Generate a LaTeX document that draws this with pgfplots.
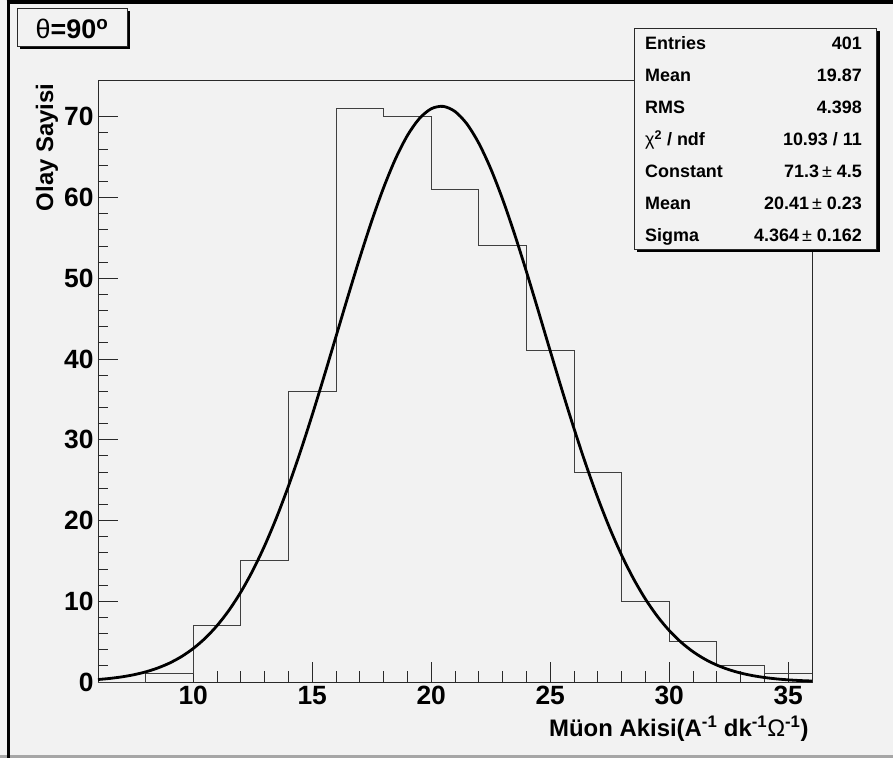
\documentclass[border=0pt]{standalone}
\usepackage{pgfplots}
\pgfplotsset{compat=1.18}
\usepackage{fontspec}
\setmainfont{Liberation Sans}
\definecolor{bgc}{HTML}{F2F2F2}
\definecolor{frm}{HTML}{2A2A2A}
\definecolor{histc}{HTML}{404040}
\begin{document}
\begin{tikzpicture}
\fill[bgc] (0bp,0bp) rectangle (893bp,758bp);
\useasboundingbox (0bp,0bp) rectangle (893bp,758bp);
\draw[gray!70, line width=2bp] (0bp,1.5bp) -- (893bp,1.5bp);
\draw[black, line width=3bp] (8bp,0bp) -- (8bp,758bp);
\draw[black, line width=3.5bp] (6.5bp,756bp) -- (893bp,756bp);
\begin{axis}[
  at={(98bp,76bp)}, anchor=south west,
  scale only axis, width=714bp, height=602bp,
  xmin=6, xmax=36, ymin=0, ymax=74.55,
  axis background/.style={fill=bgc},
  axis line style={frm, line width=0.9bp},
  xtick={10,15,20,25,30,35}, minor x tick num=4,
  ytick={0,10,20,30,40,50,60,70}, minor y tick num=4,
  tick align=inside, xtick pos=bottom, ytick pos=left,
  major tick length=20bp, minor tick length=10.5bp,
  tick style={frm, line width=0.8bp},
  /pgf/number format/assume math mode=true,
  tick label style={font=\fontsize{26.5}{26.5}\selectfont\bfseries},
  xticklabel style={yshift=-1bp},
  yticklabel style={xshift=-1bp},
  xlabel={Müon Akisi(A\textsuperscript{-1} dk\textsuperscript{-1}{\mdseries Ω}\textsuperscript{-1})},
  xlabel style={at={(rel axis cs:1,0)}, anchor=base east, yshift=-54bp,
    font=\fontsize{24}{24}\selectfont\bfseries},
  ylabel={Olay Sayisi},
  ylabel style={at={(rel axis cs:0,1)}, anchor=base east, yshift=45bp,
    font=\fontsize{24}{24}\selectfont\bfseries},
  clip=true,
]
\addplot[const plot mark left, histc, line width=0.9bp] coordinates {
(6,0) (8,1) (10,7) (12,15) (14,36) (16,71) (18,70) (20,61) (22,54)
(24,41) (26,26) (28,10) (30,5) (32,2) (34,1) (36,1)};
\addplot[black, line width=2.8bp, smooth] coordinates {
(6,0.306) (6.5,0.444) (7,0.635) (7.5,0.897) (8,1.250) (8.5,1.721)
(9,2.337) (9.5,3.133) (10,4.145) (10.5,5.411) (11,6.973) (11.5,8.870)
(12,11.134) (12.5,13.793) (13,16.867) (13.5,20.355) (14,24.244)
(14.5,28.497) (15,33.067) (15.5,37.861) (16,42.789) (16.5,47.728)
(17,52.540) (17.5,57.087) (18,61.215) (18.5,64.788) (19,67.674)
(19.5,69.766) (20,70.986) (20.5,71.285) (21,70.651) (21.5,69.110)
(22,66.721) (22.5,63.575) (23,59.786) (23.5,55.491) (24,50.833)
(24.5,45.959) (25,41.007) (25.5,36.113) (26,31.390) (26.5,26.929)
(27,22.799) (27.5,19.051) (28,15.712) (28.5,12.789) (29,10.275)
(29.5,8.146) (30,6.375) (30.5,4.925) (31,3.754) (31.5,2.824)
(32,2.097) (32.5,1.536) (33,1.111) (33.5,0.793) (34,0.559)
(34.5,0.388) (35,0.266) (35.5,0.180) (36,0.121)};
\end{axis}
% stats box
\fill[black] (637bp,506bp) rectangle (879.5bp,727bp);
\filldraw[fill=bgc, draw=frm, line width=0.9bp] (634bp,509bp) rectangle (876.5bp,730bp);
\begin{scope}[every node/.style={font=\fontsize{18}{18}\selectfont\bfseries, inner sep=0pt}]
\node[anchor=base west] at (645bp,708bp) {Entries};
\node[anchor=base east] at (862bp,708bp) {401};
\node[anchor=base west] at (645bp,676bp) {Mean};
\node[anchor=base east] at (862bp,676bp) {19.87};
\node[anchor=base west] at (645bp,644bp) {RMS};
\node[anchor=base east] at (862bp,644bp) {4.398};
\node[anchor=base west] at (645bp,612bp) {{\mdseries χ}\textsuperscript{2} / ndf};
\node[anchor=base east] at (862bp,612bp) {10.93 / 11};
\node[anchor=base west] at (645bp,580bp) {Constant};
\node[anchor=base east] at (862bp,580bp) {71.3\,{\mdseries ±}\ 4.5};
\node[anchor=base west] at (645bp,548bp) {Mean};
\node[anchor=base east] at (862bp,548bp) {20.41\,{\mdseries ±}\ 0.23};
\node[anchor=base west] at (645bp,516bp) {Sigma};
\node[anchor=base east] at (862bp,516bp) {4.364\,{\mdseries ±}\ 0.162};
\end{scope}
% title box
\fill[black] (20bp,709bp) rectangle (130bp,747bp);
\filldraw[fill=bgc, draw=frm, line width=0.9bp] (17bp,712bp) rectangle (127bp,750bp);
\node[font=\fontsize{27}{27}\selectfont\bfseries, inner sep=0pt, anchor=base] at (72bp,719bp) {{\mdseries θ}=90\textsuperscript{o}};
\end{tikzpicture}
\end{document}
